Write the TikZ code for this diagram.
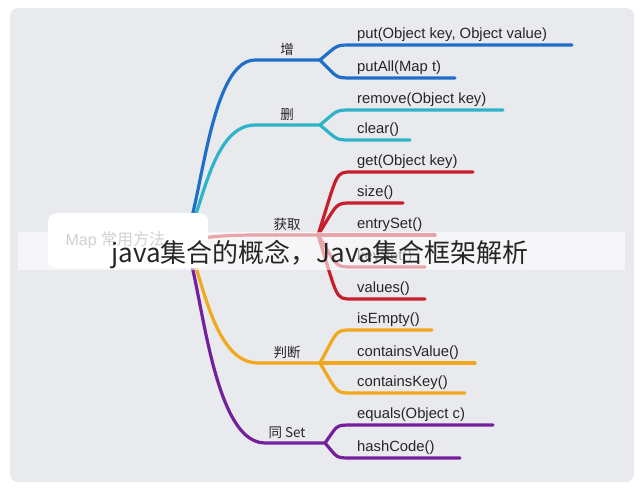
\documentclass[tikz,border=0pt]{standalone}
\usepackage{fontspec}
\setmainfont{Liberation Sans}
\newfontfamily\cjk{Noto Sans CJK SC}
\begin{document}
\begin{tikzpicture}[x=1pt,y=-1pt,
  br/.style={line width=3.2pt,line cap=round},
  leaf/.style={anchor=south west,inner sep=1pt,font=\fontsize{14.8}{16}\selectfont,text=black!85},
  cat/.style={anchor=south,inner sep=1pt,font=\cjk\fontsize{13.5}{15}\selectfont,text=black!85}]
\definecolor{cB}{HTML}{1F6FC8}\definecolor{cT}{HTML}{2EB3C9}
\definecolor{cR}{HTML}{C41F2B}\definecolor{cO}{HTML}{F2A81D}\definecolor{cP}{HTML}{74209C}
\fill[white] (0,0) rectangle (644,490);
\useasboundingbox (0,0) rectangle (644,490);
\fill[rounded corners=8pt,fill={rgb,255:red,233;green,234;blue,238}] (10,8) rectangle (634,482);
\coordinate (o) at (180,240);
\foreach \cx/\cy/\cl/\c/\t/\nm in {255/60/320/cB/增/A,255/125/320/cT/删/B,258/235/318/cR/获取/C,258/363/320/cO/判断/D,265/443/325/cP/同 Set/E}{
  \coordinate (s\nm) at (\cx,\cy);
  \coordinate (e\nm) at (\cl,\cy);
  \draw[br,\c] (o) .. controls (200,240) and (205,\cy) .. (s\nm) -- (e\nm);
  \node[cat] (t\nm) at (287,\cy-3) {\t};
}
\foreach \n/\cat/\y/\xe/\c/\t in {
 a1/A/45/572/cB/put(Object key{,} Object value),
 a2/A/78/455/cB/putAll(Map t),
 b1/B/110/503/cT/remove(Object key),
 b2/B/140/410/cT/clear(),
 c1/C/172/473/cR/get(Object key),
 c2/C/203/403/cR/size(),
 c3/C/235/435/cR/entrySet(),
 c4/C/267/425/cR/keySet(),
 c5/C/299/425/cR/values(),
 d1/D/330/432/cO/isEmpty(),
 d2/D/363/475/cO/containsValue(),
 d3/D/393/465/cO/containsKey(),
 e1/E/425/493/cP/equals(Object c),
 e2/E/458/460/cP/hashCode()}{
  \coordinate (l\n) at (352,\y);
  \coordinate (r\n) at (\xe,\y);
  \draw[br,\c] (e\cat) .. controls (338,\y) and (335,\y) .. (l\n) -- (r\n);
  \node[leaf] (t\n) at (356,\y-2) {\t};
}
\node[draw=none,fill=white,rounded corners=8pt,minimum width=160pt,minimum height=55pt,anchor=north west] (root) at (48,213) {};
\node[anchor=west,text=black!45,font=\fontsize{16}{18}\selectfont] (rt) at (62,240) {Map {\cjk 常用方法}};
\fill[white,opacity=0.6] (18,232) rectangle (625,270);
\node[font=\cjk\fontsize{26}{28}\selectfont,text=black!85] (ban) at (320,254) {java集合的概念，Java集合框架解析};
\end{tikzpicture}
\end{document}
